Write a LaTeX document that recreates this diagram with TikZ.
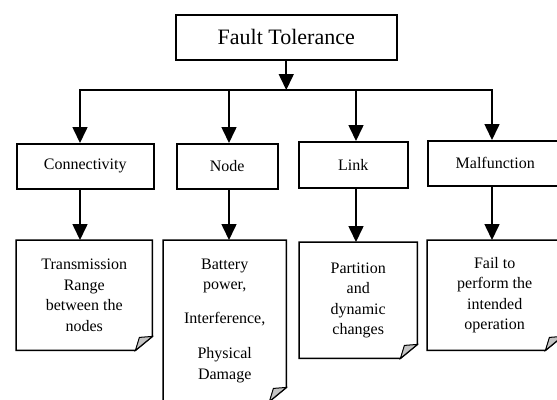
\documentclass[tikz,border=0pt]{standalone}
\usepackage{fontspec}
\setmainfont{Liberation Serif}
\usetikzlibrary{arrows.meta,positioning,calc}
\definecolor{foldgray}{RGB}{196,196,196}

\begin{document}
\begin{tikzpicture}[x=1bp,y=1bp,
  box/.style={draw,line width=1.5bp,inner sep=0pt,anchor=north west,font=\fontsize{16bp}{20bp}\selectfont},
  note/.style={inner sep=0pt,anchor=north west,align=center,font=\fontsize{16bp}{20.5bp}\selectfont},
  arrow/.style={-{Triangle[length=16bp,width=15bp]},line width=1.6bp},
  bus/.style={line width=1.6bp,line cap=rect}
]
\useasboundingbox (0,0) rectangle (557,-399);
\clip (0,0) rectangle (557,-399);

\node[box,minimum width=221bp,minimum height=45bp,font=\fontsize{22bp}{26bp}\selectfont] (ft) at (175,-14) {Fault Tolerance};

% second level
\node[box,minimum width=137bp,minimum height=45bp] (conn) at (16,-143) {Connectivity};
\node[box,minimum width=101bp,minimum height=45bp] (nd) at (176,-143) {Node};
\node[box,minimum width=109bp,minimum height=46bp] (link) at (298,-141) {Link};
\node[box,minimum width=135bp,minimum height=45bp] (malf) at (427,-140) {Malfunction};

% third level
\node[note,minimum width=136bp,minimum height=110bp] (trans) at (16,-240) {Transmission\\Range\\between the\\nodes};
\node[note,minimum width=123bp,minimum height=161bp] (batt) at (163,-240) {Battery\\power,\\[13bp]Interference,\\[15bp]Physical\\Damage};
\node[note,minimum width=118bp,minimum height=116bp] (part) at (299,-242) {Partition\\and\\dynamic\\changes};
\node[note,minimum width=135bp,minimum height=110bp] (fail) at (427,-240) {Fail to\\perform the\\intended\\operation};

\foreach \n in {trans,batt,part,fail}{
  \draw[line width=1.5bp] ($(\n.south east)+(-17,0)$) -- (\n.south west) -- (\n.north west) -- (\n.north east) -- ($(\n.south east)+(0,14)$) -- cycle;
  \filldraw[fill=foldgray,line width=1bp] ($(\n.south east)+(-17,0)$) .. controls ($(\n.south east)+(-15,7)$) .. ($(\n.south east)+(-13,13)$) -- ($(\n.south east)+(0,14)$) -- cycle;
}

% connectors
\coordinate (b1) at (80,-90);
\coordinate (b2) at (229,-90);
\coordinate (b3) at (356,-90);
\coordinate (b4) at (492,-90);
\draw[bus] (b1) -- (b4);
\draw[arrow] (ft.south) -- (ft.south |- b1);
\foreach \b/\n in {b1/conn,b2/nd,b3/link,b4/malf}
  \draw[arrow] (\b) -- (\b |- \n.north);
\foreach \b/\n/\m in {b1/conn/trans,b2/nd/batt,b3/link/part,b4/malf/fail}
  \draw[arrow] (\b |- \n.south) -- (\b |- \m.north);
\end{tikzpicture}
\end{document}
